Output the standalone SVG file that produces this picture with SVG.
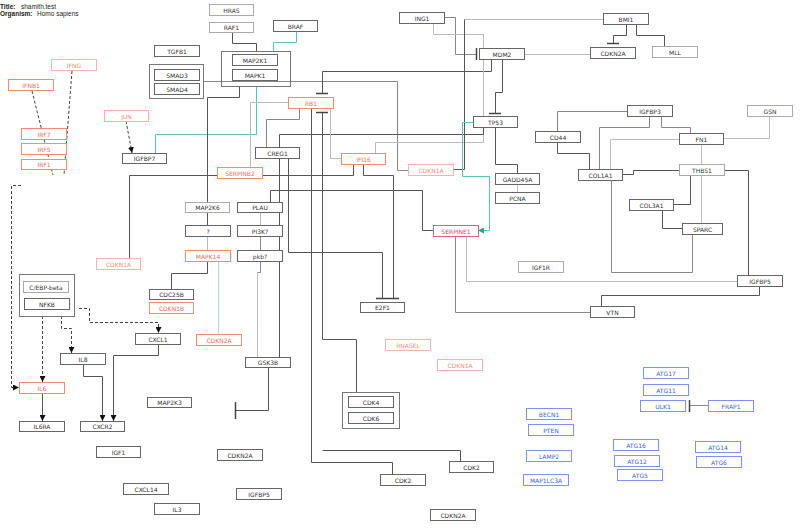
<svg xmlns="http://www.w3.org/2000/svg" width="800" height="528" viewBox="0 0 800 528">
<defs>
<style>
.n rect{fill:#fff;stroke:#666;stroke-width:1}
.n text{font-family:"DejaVu Sans",sans-serif;font-size:6px;fill:#333;text-anchor:middle;dominant-baseline:central}
.l rect{stroke:#aaa}
.r rect{stroke:#f58a76}.r text{fill:#f26a55}
.p rect{stroke:#f9b3aa}.p text{fill:#f58a7e}
.c rect{stroke:#ea5b7c}.c text{fill:#e23d66}
.b rect{stroke:#7d93f2}.b text{fill:#3b5de6}
.g{fill:none;stroke:#777;stroke-width:1}
.e path{fill:none;stroke:#555;stroke-width:1}
.e path.lt{stroke:#bbb}
.e path.md{stroke:#888}
.e path.tl{stroke:#5cc4c0}
.e path.cy{stroke:#a9dde6}
.e path.d{stroke:#444;stroke-dasharray:3,2}
.e path.bar{stroke:#444;stroke-width:1.5}
.t{font-family:"Liberation Sans",Arial,sans-serif;font-size:6.5px;fill:#222}
</style>
<marker id="ar" viewBox="0 0 6 6" refX="6" refY="3" markerWidth="6" markerHeight="6" markerUnits="userSpaceOnUse" orient="auto"><path d="M0,0L6,3L0,6z" fill="#111"/></marker>
<marker id="art" viewBox="0 0 6 6" refX="6" refY="3" markerWidth="6" markerHeight="6" markerUnits="userSpaceOnUse" orient="auto"><path d="M0,0L6,3L0,6z" fill="#1aa59c"/></marker>
</defs>
<rect width="800" height="528" fill="#fff"/>
<text class="t" x="0" y="9"><tspan font-weight="bold">Title:</tspan><tspan x="21">shamith.test</tspan></text>
<text class="t" x="0" y="16"><tspan font-weight="bold">Organism:</tspan><tspan x="37">Homo sapiens</tspan></text>

<g id="connectors" class="e">
<path d="M232.5,33V43.5H256.5V51"/>
<path class="tl" d="M296.5,31V42.5H273.5V51"/>
<path class="tl" d="M256.5,86V134.5H155.5V153"/>
<path d="M239.5,86V97.5H207.5V202"/>
<path class="md" d="M203,81.5H397.5V170.5H408"/>
<path d="M491.5,59V71.5H322.5V93"/>
<path class="bar" d="M316,93.5H328"/>
<path d="M502.5,59V92.5H495.5V113"/>
<path class="bar" d="M489,113.5H501"/>
<path class="md" d="M444,17.5H455.5V54.5H476"/>
<path class="bar" d="M476.5,48V60"/>
<path class="lt" d="M433.5,23V34.5H483.5V142.5H375.5V153"/>
<path d="M483.5,127V134.5H279.5V357"/>
<path class="lt" d="M603,19.5H464.5"/>
<path d="M464.5,19.5V169.5H453"/>
<path class="lt" d="M524,54.5H590"/>
<path d="M626.5,24V35.5H613.5V43"/>
<path class="bar" d="M607,43.5H619"/>
<path d="M636.5,24V35.5H664.5V46"/>
<path d="M495.5,127V164.5H517.5V173"/>
<path class="lt" d="M517.5,184V192"/>
<path class="tl" d="M473,122.5H462.5V176.5H489.5V230.5H478" marker-end="url(#art)"/>
<path class="lt" d="M288,102.5H250.5V167"/>
<path class="md" d="M299.5,108V119.5H266.5V147"/>
<path class="lt" d="M330.5,108V158.5H341"/>
<path d="M356.5,392V339.5H322.5V112"/>
<path class="bar" d="M316,112.5H328"/>
<path d="M460.5,461V450.5H322.5"/>
<path d="M311.5,108V462.5H392.5V474"/>
<path d="M353.5,164V175.5H129.5V258"/>
<path d="M363.5,164V175.5H393.5V298"/>
<path d="M288.5,158V252.5H382.5V298"/>
<path class="bar" d="M376,298.5H399"/>
<path d="M270.5,202V190.5H422.5V230.5H433"/>
<path d="M207.5,213V225"/>
<path class="lt" d="M207.5,236V250"/>
<path d="M207.5,261V273.5H171.5V289"/>
<path class="cy" d="M218.5,261V334"/>
<path class="lt" d="M260.5,213V225"/>
<path class="md" d="M260.5,236V250"/>
<path class="md" d="M260.5,261V272.5H257.5"/>
<path class="lt" d="M257.5,272.5V357"/>
<path d="M268.5,367V410.5H235.5"/>
<path class="bar" d="M235.5,402V419"/>
<path class="lt" d="M466.5,236V281.5H737"/>
<path class="md" d="M455.5,236V312.5H590"/>
<path d="M759.5,286V295.5H601.5V306"/>
<path d="M724,170.5H748.5V275"/>
<path class="md" d="M692.5,234V272.5H611.5V180"/>
<path d="M662.5,210V228.5H682"/>
<path d="M673,204.5H690.5V175"/>
<path class="lt" d="M701.5,175V223"/>
<path class="lt" d="M701.5,144V164"/>
<path d="M622,174.5H633.5V170.5H679"/>
<path class="md" d="M627,111.5H557.5V131"/>
<path d="M557.5,142V153.5H589.5V169"/>
<path class="md" d="M649.5,116V127.5H599.5V169"/>
<path class="md" d="M661.5,116V127.5H690.5V133"/>
<path class="lt" d="M679,139.5H610.5V169"/>
<path class="lt" d="M769.5,116V138.5H723"/>
<path class="md" d="M708,405.5H689.5"/>
<path class="bar" d="M689.5,400V412"/>
<path class="d" d="M32,91L53,175"/>
<path class="d" d="M72,71L64,175"/>
<path class="d" d="M21,185.5H11.5V387.5H19" marker-end="url(#ar)"/>
<path class="d" d="M126,121L132,153" marker-end="url(#ar)"/>
<path class="d" d="M42.5,316V382" marker-end="url(#ar)"/>
<path class="d" d="M61.5,316V328.5H71.5V353" marker-end="url(#ar)"/>
<path class="d" d="M79,308.5H89.5V322.5H158.5V333" marker-end="url(#ar)"/>
<path d="M42.5,393V421" marker-end="url(#ar)"/>
<path d="M83.5,364V376.5H102.5V421" marker-end="url(#ar)"/>
<path d="M158.5,344V355.5H113.5V421" marker-end="url(#ar)"/>
</g>

<rect class="g" x="221.5" y="51.5" width="69" height="35"/>
<rect class="g" x="149.5" y="64.5" width="54" height="34"/>
<rect class="g" x="19.5" y="274.5" width="55" height="42"/>
<rect class="g" x="342.5" y="392.5" width="57" height="36"/>

<g id="HRAS" class="n l"><rect x="209.5" y="4.5" width="44" height="11"/><text x="231.5" y="10">HRAS</text></g>
<g id="RAF1" class="n l"><rect x="209.5" y="22.5" width="44" height="10"/><text x="231.5" y="27.5">RAF1</text></g>
<g id="BRAF" class="n"><rect x="273.5" y="20.5" width="44" height="11"/><text x="295.5" y="26">BRAF</text></g>
<g id="TGFB1" class="n"><rect x="154.5" y="45.5" width="45" height="11"/><text x="177" y="51">TGFB1</text></g>
<g id="MAP2K1" class="n"><rect x="232.5" y="54.5" width="45" height="11"/><text x="255" y="60">MAP2K1</text></g>
<g id="MAPK1" class="n"><rect x="232.5" y="69.5" width="45" height="11"/><text x="255" y="75">MAPK1</text></g>
<g id="SMAD3" class="n"><rect x="154.5" y="69.5" width="45" height="11"/><text x="177" y="75">SMAD3</text></g>
<g id="SMAD4" class="n"><rect x="154.5" y="83.5" width="45" height="11"/><text x="177" y="89">SMAD4</text></g>
<g id="ING1" class="n"><rect x="399.5" y="12.5" width="45" height="11"/><text x="422" y="18">ING1</text></g>
<g id="MDM2" class="n"><rect x="479.5" y="48.5" width="45" height="11"/><text x="502" y="54">MDM2</text></g>
<g id="BMI1" class="n"><rect x="603.5" y="13.5" width="45" height="11"/><text x="626" y="19">BMI1</text></g>
<g id="CDKN2A_1" class="n"><rect x="590.5" y="47.5" width="45" height="11"/><text x="613" y="53">CDKN2A</text></g>
<g id="MLL" class="n l"><rect x="652.5" y="46.5" width="45" height="11"/><text x="675" y="52">MLL</text></g>
<g id="IFNG" class="n p"><rect x="51.5" y="59.5" width="45" height="11"/><text x="74" y="65">IFNG</text></g>
<g id="IFNB1" class="n r"><rect x="8.5" y="79.5" width="45" height="11"/><text x="31" y="85">IFNB1</text></g>
<g id="JUN" class="n p"><rect x="104.5" y="110.5" width="44" height="11"/><text x="126.5" y="116">JUN</text></g>
<g id="IGFBP7" class="n"><rect x="122.5" y="153.5" width="44" height="10"/><text x="144.5" y="158.5">IGFBP7</text></g>
<g id="IRF7" class="n r"><rect x="21.5" y="128.5" width="45" height="11"/><text x="44" y="134">IRF7</text></g>
<g id="IRF5" class="n r"><rect x="21.5" y="143.5" width="45" height="11"/><text x="44" y="149">IRF5</text></g>
<g id="IRF1" class="n r"><rect x="21.5" y="159.5" width="45" height="10"/><text x="44" y="164.5">IRF1</text></g>
<g id="RB1" class="n r"><rect x="288.5" y="97.5" width="45" height="11"/><text x="311" y="103">RB1</text></g>
<g id="TP53" class="n"><rect x="473.5" y="116.5" width="44" height="11"/><text x="495.5" y="122">TP53</text></g>
<g id="CREG1" class="n"><rect x="255.5" y="147.5" width="44" height="11"/><text x="277.5" y="153">CREG1</text></g>
<g id="IFI16" class="n r"><rect x="341.5" y="153.5" width="44" height="11"/><text x="363.5" y="159">IFI16</text></g>
<g id="CDKN1A_1" class="n p"><rect x="408.5" y="164.5" width="45" height="11"/><text x="431" y="170">CDKN1A</text></g>
<g id="SERPINB2" class="n r"><rect x="217.5" y="167.5" width="45" height="11"/><text x="240" y="173">SERPINB2</text></g>
<g id="GADD45A" class="n"><rect x="495.5" y="173.5" width="44" height="11"/><text x="517.5" y="179">GADD45A</text></g>
<g id="PCNA" class="n"><rect x="495.5" y="192.5" width="44" height="11"/><text x="517.5" y="198">PCNA</text></g>
<g id="IGFBP3" class="n"><rect x="627.5" y="105.5" width="45" height="11"/><text x="650" y="111">IGFBP3</text></g>
<g id="GSN" class="n l"><rect x="747.5" y="105.5" width="45" height="11"/><text x="770" y="111">GSN</text></g>
<g id="CD44" class="n"><rect x="535.5" y="131.5" width="45" height="11"/><text x="558" y="137">CD44</text></g>
<g id="FN1" class="n"><rect x="679.5" y="133.5" width="44" height="11"/><text x="701.5" y="139">FN1</text></g>
<g id="COL1A1" class="n"><rect x="578.5" y="169.5" width="44" height="11"/><text x="600.5" y="175">COL1A1</text></g>
<g id="THBS1" class="n l"><rect x="679.5" y="164.5" width="45" height="11"/><text x="702" y="170">THBS1</text></g>
<g id="COL3A1" class="n"><rect x="629.5" y="199.5" width="44" height="11"/><text x="651.5" y="205">COL3A1</text></g>
<g id="SPARC" class="n"><rect x="682.5" y="223.5" width="40" height="11"/><text x="702.5" y="229">SPARC</text></g>
<g id="IGF1R" class="n l"><rect x="518.5" y="261.5" width="45" height="11"/><text x="541" y="267">IGF1R</text></g>
<g id="IGFBP5_1" class="n"><rect x="737.5" y="275.5" width="45" height="11"/><text x="760" y="281">IGFBP5</text></g>
<g id="VTN" class="n"><rect x="590.5" y="306.5" width="44" height="11"/><text x="612.5" y="312">VTN</text></g>
<g id="SERPINE1" class="n c"><rect x="433.5" y="225.5" width="45" height="11"/><text x="456" y="231">SERPINE1</text></g>
<g id="MAP2K6" class="n l"><rect x="185.5" y="202.5" width="44" height="10"/><text x="207.5" y="207.5">MAP2K6</text></g>
<g id="Q" class="n"><rect x="185.5" y="225.5" width="45" height="11"/><text x="208" y="231">?</text></g>
<g id="MAPK14" class="n r"><rect x="185.5" y="250.5" width="45" height="11"/><text x="208" y="256">MAPK14</text></g>
<g id="PLAU" class="n"><rect x="237.5" y="202.5" width="45" height="10"/><text x="260" y="207.5">PLAU</text></g>
<g id="PI3K" class="n"><rect x="237.5" y="225.5" width="45" height="11"/><text x="260" y="231">PI3K?</text></g>
<g id="pkb" class="n"><rect x="237.5" y="250.5" width="45" height="11"/><text x="260" y="256">pkb?</text></g>
<g id="CDKN1A_2" class="n p"><rect x="96.5" y="258.5" width="44" height="11"/><text x="118.5" y="264">CDKN1A</text></g>
<g id="CEBPB" class="n l"><rect x="23.5" y="281.5" width="45" height="11"/><text x="46" y="287">C/EBP-beta</text></g>
<g id="NFKB" class="n"><rect x="24.5" y="298.5" width="45" height="11"/><text x="47" y="304">NFKB</text></g>
<g id="CDC25B" class="n"><rect x="149.5" y="289.5" width="44" height="10"/><text x="171.5" y="294.5">CDC25B</text></g>
<g id="CDKN1B" class="n r"><rect x="149.5" y="302.5" width="44" height="11"/><text x="171.5" y="308">CDKN1B</text></g>
<g id="CXCL1" class="n"><rect x="135.5" y="333.5" width="45" height="11"/><text x="158" y="339">CXCL1</text></g>
<g id="CDKN2A_2" class="n r"><rect x="196.5" y="334.5" width="45" height="11"/><text x="219" y="340">CDKN2A</text></g>
<g id="E2F1" class="n"><rect x="360.5" y="302.5" width="44" height="10"/><text x="382.5" y="307.5">E2F1</text></g>
<g id="RNASEL" class="n p"><rect x="385.5" y="339.5" width="45" height="11"/><text x="408" y="345">RNASEL</text></g>
<g id="IL8" class="n"><rect x="60.5" y="353.5" width="45" height="11"/><text x="83" y="359">IL8</text></g>
<g id="IL6" class="n r"><rect x="19.5" y="382.5" width="45" height="11"/><text x="42" y="388">IL6</text></g>
<g id="IL6RA" class="n"><rect x="19.5" y="421.5" width="45" height="10"/><text x="42" y="426.5">IL6RA</text></g>
<g id="CXCR2" class="n"><rect x="80.5" y="421.5" width="44" height="10"/><text x="102.5" y="426.5">CXCR2</text></g>
<g id="GSK3B" class="n"><rect x="245.5" y="357.5" width="45" height="10"/><text x="268" y="362.5">GSK3B</text></g>
<g id="CDKN1A_3" class="n p"><rect x="437.5" y="359.5" width="45" height="11"/><text x="460" y="365">CDKN1A</text></g>
<g id="MAP2K3" class="n"><rect x="147.5" y="397.5" width="44" height="10"/><text x="169.5" y="402.5">MAP2K3</text></g>
<g id="CDK4" class="n"><rect x="348.5" y="396.5" width="45" height="11"/><text x="371" y="402">CDK4</text></g>
<g id="CDK6" class="n"><rect x="348.5" y="412.5" width="45" height="11"/><text x="371" y="418">CDK6</text></g>
<g id="IGF1" class="n"><rect x="96.5" y="446.5" width="44" height="11"/><text x="118.5" y="452">IGF1</text></g>
<g id="CDKN2A_3" class="n"><rect x="217.5" y="449.5" width="45" height="11"/><text x="240" y="455">CDKN2A</text></g>
<g id="CDK2_1" class="n"><rect x="449.5" y="461.5" width="44" height="11"/><text x="471.5" y="467">CDK2</text></g>
<g id="CDK2_2" class="n"><rect x="380.5" y="474.5" width="45" height="11"/><text x="403" y="480">CDK2</text></g>
<g id="CXCL14" class="n"><rect x="123.5" y="483.5" width="45" height="11"/><text x="146" y="489">CXCL14</text></g>
<g id="IGFBP5_2" class="n"><rect x="236.5" y="488.5" width="45" height="11"/><text x="259" y="494">IGFBP5</text></g>
<g id="IL3" class="n"><rect x="154.5" y="503.5" width="45" height="11"/><text x="177" y="509">IL3</text></g>
<g id="CDKN2A_4" class="n"><rect x="430.5" y="509.5" width="45" height="11"/><text x="453" y="515">CDKN2A</text></g>
<g id="ATG17" class="n b"><rect x="643.5" y="367.5" width="45" height="11"/><text x="666" y="373">ATG17</text></g>
<g id="ATG11" class="n b"><rect x="643.5" y="384.5" width="45" height="11"/><text x="666" y="390">ATG11</text></g>
<g id="ULK1" class="n b"><rect x="640.5" y="400.5" width="45" height="11"/><text x="663" y="406">ULK1</text></g>
<g id="FRAP1" class="n b"><rect x="708.5" y="400.5" width="45" height="11"/><text x="731" y="406">FRAP1</text></g>
<g id="BECN1" class="n b"><rect x="526.5" y="408.5" width="45" height="11"/><text x="549" y="414">BECN1</text></g>
<g id="PTEN" class="n b"><rect x="528.5" y="424.5" width="45" height="11"/><text x="551" y="430">PTEN</text></g>
<g id="LAMP2" class="n b"><rect x="526.5" y="450.5" width="45" height="11"/><text x="549" y="456">LAMP2</text></g>
<g id="MAP1LC3A" class="n b"><rect x="523.5" y="474.5" width="45" height="11"/><text x="546" y="480">MAP1LC3A</text></g>
<g id="ATG16" class="n b"><rect x="613.5" y="439.5" width="45" height="11"/><text x="636" y="445">ATG16</text></g>
<g id="ATG12" class="n b"><rect x="614.5" y="455.5" width="45" height="11"/><text x="637" y="461">ATG12</text></g>
<g id="ATG5" class="n b"><rect x="617.5" y="469.5" width="45" height="11"/><text x="640" y="475">ATG5</text></g>
<g id="ATG14" class="n b"><rect x="695.5" y="441.5" width="45" height="11"/><text x="718" y="447">ATG14</text></g>
<g id="ATG6" class="n b"><rect x="696.5" y="456.5" width="45" height="11"/><text x="719" y="462">ATG6</text></g>
</svg>
